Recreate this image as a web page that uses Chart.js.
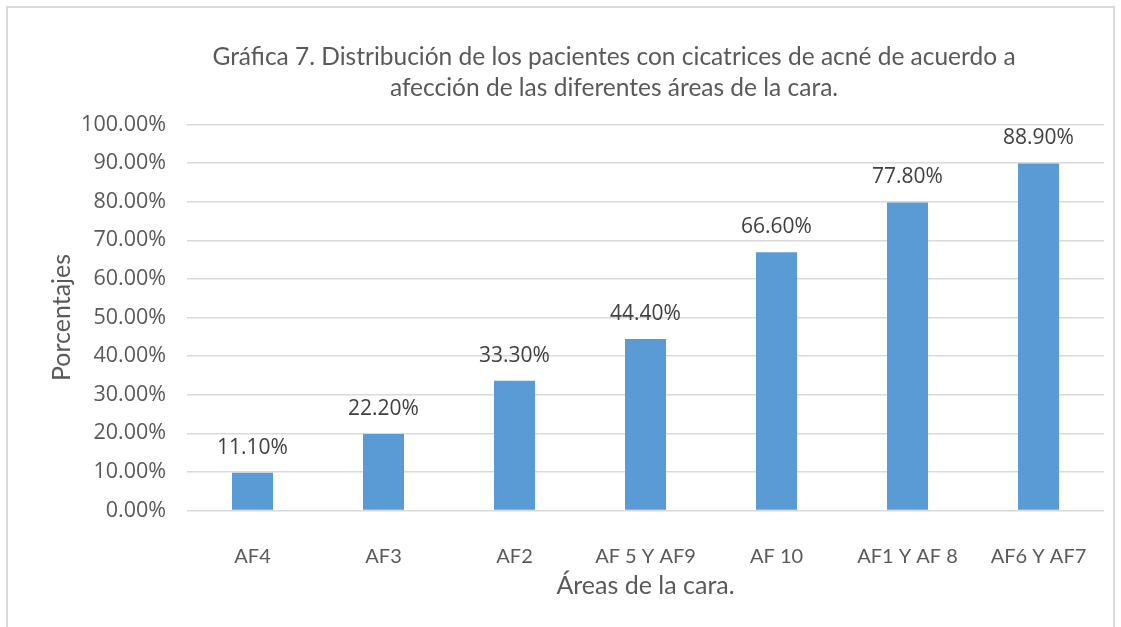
<!DOCTYPE html>
<html>
<head>
<meta charset="utf-8">
<script src="https://cdn.jsdelivr.net/npm/chart.js@4.4.1/dist/chart.umd.min.js"></script>
<style>
  html, body { margin: 0; padding: 0; background: #fff; }
  #wrap { position: relative; width: 1121px; height: 627px; overflow: hidden; }
  #frame {
    position: absolute; left: 6px; top: 6px; width: 1109px; height: 640px;
    border: 2px solid #d9d9d9; box-sizing: border-box; pointer-events: none;
  }
  canvas { position: absolute; left: 0; top: 0; }
</style>
</head>
<body>
<div id="wrap">
  <canvas id="graficaAreas" width="1121" height="627"></canvas>
  <div id="frame"></div>
</div>
<script>
// categorias del eje x
const areas = ['AF4', 'AF3', 'AF2', 'AF 5 Y AF9', 'AF 10', 'AF1 Y AF 8', 'AF6 Y AF7'];
// altura de cada barra (%)
const porcentajes = [9.8, 19.8, 33.6, 44.4, 66.9, 79.8, 89.9];
// etiquetas de datos tal como aparecen
const etiquetas = ['11.10%', '22.20%', '33.30%', '44.40%', '66.60%', '77.80%', '88.90%'];
const tituloLineas = [
    'Gráfica 7. Distribución de los pacientes con cicatrices de acné de acuerdo a',
    'afección de las diferentes áreas de la cara.'
];

document.addEventListener('DOMContentLoaded', function () {
    const ctx = document.getElementById('graficaAreas').getContext('2d');

    // dibuja las etiquetas encima de cada barra
    const etiquetasPlugin = {
        id: 'etiquetas',
        afterDatasetsDraw(chart) {
            const c = chart.ctx;
            const meta = chart.getDatasetMeta(0);
            c.save();
            c.font = '21px "Open Sans"';
            c.fillStyle = '#404040';
            c.textAlign = 'center';
            c.textBaseline = 'middle';
            meta.data.forEach((bar, i) => {
                c.fillText(etiquetas[i], bar.x, bar.y - 25);
            });
            c.restore();
        }
    };

    // titulo centrado como en excel (un poco a la derecha)
    const tituloPlugin = {
        id: 'tituloExcel',
        afterDraw(chart) {
            const c = chart.ctx;
            c.save();
            c.font = '24.5px Lato';
            c.fillStyle = '#595959';
            c.textAlign = 'center';
            c.textBaseline = 'middle';
            tituloLineas.forEach((linea, i) => {
                c.fillText(linea, 614, 57 + i * 31.5);
            });
            c.restore();
        }
    };

    new Chart(ctx, {
        type: 'bar',
        data: {
            labels: areas,
            datasets: [{
                data: porcentajes,
                backgroundColor: '#5b9bd5',
                categoryPercentage: 1,
                barPercentage: 0.313
            }]
        },
        options: {
            responsive: false,
            animation: false,
            layout: { padding: { left: 43, right: 17, top: 124.5, bottom: 22 } },
            plugins: {
                legend: { display: false },
                tooltip: { enabled: false },
                title: { display: false }
            },
            scales: {
                x: {
                    grid: { display: false },
                    border: { display: false },
                    ticks: {
                        color: '#595959',
                        font: { family: 'Lato', size: 20 },
                        padding: 26,
                        maxRotation: 0,
                        autoSkip: false
                    },
                    title: {
                        display: true,
                        text: 'Áreas de la cara.',
                        color: '#595959',
                        font: { family: 'Lato', size: 25 }
                    },
                    afterFit(scale) { scale.height = 94.5; }
                },
                y: {
                    min: 0,
                    max: 100,
                    grid: { color: '#d9d9d9', lineWidth: 1.5, drawTicks: false },
                    border: { display: false },
                    ticks: {
                        stepSize: 10,
                        color: '#595959',
                        font: { family: 'Open Sans', size: 21.5 },
                        padding: 21,
                        callback: (v) => v.toFixed(2) + '%'
                    },
                    title: {
                        display: true,
                        text: 'Porcentajes',
                        color: '#595959',
                        font: { family: 'Lato', size: 25 }
                    },
                    afterFit(scale) { scale.width = 144; }
                }
            }
        },
        plugins: [etiquetasPlugin, tituloPlugin]
    });
});
</script>
</body>
</html>
